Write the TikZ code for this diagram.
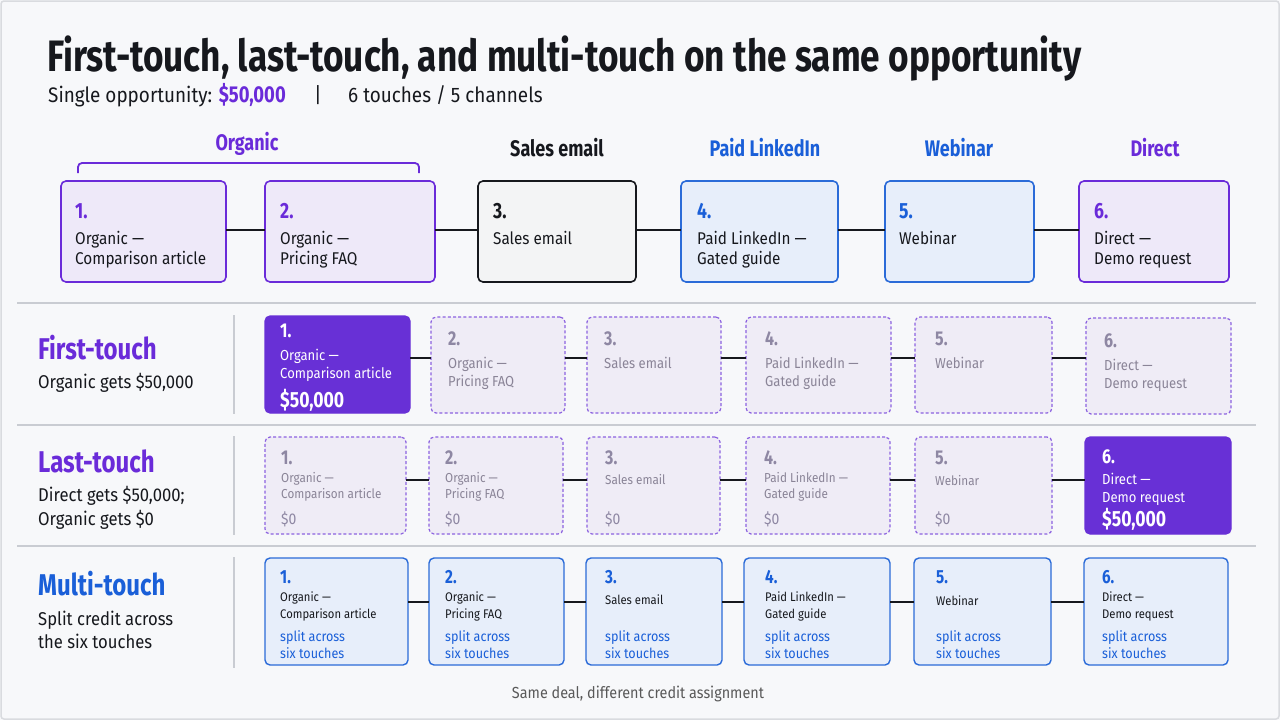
\documentclass[tikz,border=0pt]{standalone}
\usepackage{fontspec}
\setmainfont{Fira Sans}[FakeStretch=0.9, BoldFeatures={FakeStretch=0.8}]
\definecolor{P}{HTML}{6A2BD9}
\definecolor{PF}{HTML}{6830D6}
\definecolor{PL}{HTML}{EEE9F9}
\definecolor{PD}{HTML}{8C62E0}
\definecolor{DL}{HTML}{EFECF6}
\definecolor{B}{HTML}{1A5FD8}
\definecolor{BB}{HTML}{2B6BD8}
\definecolor{BL}{HTML}{E7EEFA}
\definecolor{GT}{HTML}{8A8497}
\definecolor{GN}{HTML}{8E87A3}
\definecolor{SEP}{HTML}{C9CCD2}
\definecolor{BG}{HTML}{F7F8FA}
\definecolor{KF}{HTML}{F3F4F5}
\definecolor{INK}{HTML}{16181D}
\newcommand\bx[6]{\node[#6, minimum width={#4-#2}, minimum height={#5-#3}] (#1) at ({(#2+#4)/2},{(#3+#5)/2}) {};}
\newcommand\tx[5]{\node[#4, anchor=base west, inner sep=0pt] at ([shift={(#2,#3)}]#1.north west) {#5};}
\tikzset{
  boxbase/.style={rectangle, rounded corners=5pt, inner sep=0pt, outer sep=0pt},
  pbox/.style={boxbase, draw=P, fill=PL, line width=1.6pt},
  kbox/.style={boxbase, draw=INK, fill=KF, line width=1.6pt},
  bbox/.style={boxbase, draw=BB, fill=BL, line width=1.6pt},
  dbox/.style={boxbase, draw=PD, fill=DL, line width=1.2pt, dash pattern=on 3pt off 2.2pt},
  fbox/.style={boxbase, draw=PF, fill=PF, line width=1.2pt},
  mbox/.style={boxbase, draw=BB, fill=BL, line width=1.4pt},
  conn/.style={draw=INK, line width=2pt},
  sepl/.style={draw=SEP, line width=1.4pt},
  chan/.style={font=\fontsize{22.5}{25}\selectfont\bfseries, inner sep=0pt},
  nA/.style={font=\fontsize{22}{24}\selectfont\bfseries},
  tA/.style={font=\fontsize{17}{20}\selectfont, text=INK},
  nB/.style={font=\fontsize{20}{22}\selectfont\bfseries},
  tB/.style={font=\fontsize{14.5}{17}\selectfont},
  mB/.style={font=\fontsize{22}{24}\selectfont\bfseries},
  nC/.style={font=\fontsize{20}{22}\selectfont\bfseries},
  tC/.style={font=\fontsize{13}{16}\selectfont},
  zC/.style={font=\fontsize{15.5}{18}\selectfont, text=GN},
  nD/.style={font=\fontsize{19}{22}\selectfont\bfseries, text=B},
  tD/.style={font=\fontsize{12.5}{15}\selectfont, text=INK},
  sD/.style={font=\fontsize{14}{17}\selectfont, text=B},
  rowlab/.style={font=\fontsize{30}{33}\selectfont\bfseries, anchor=base west, inner sep=0pt},
  rowsub/.style={font=\fontsize{18.5}{21}\selectfont, text=INK, anchor=base west, inner sep=0pt},
}
\begin{document}
\begin{tikzpicture}[x=1pt,y=-1pt]
\useasboundingbox (0,0) rectangle (1280,720);
\fill[BG] (0,0) rectangle (1280,720);
\draw[draw=SEP!70, line width=1.5pt, rounded corners=3pt] (1,1) rectangle (1279,719);

% title
\node[anchor=base west, inner sep=0pt, text=INK, font=\fontsize{44}{48}\selectfont\bfseries] (title) at (47,71) {First-touch, last-touch, and multi-touch on the same opportunity};
\node[anchor=base west, inner sep=0pt, text=INK, font=\fontsize{21}{24}\selectfont] (sub1) at (48,102) {Single opportunity: {\fontsize{23}{24}\selectfont\bfseries\color{P}\$50,000}};
\node[anchor=base, inner sep=0pt, text=INK, font=\fontsize{21}{24}\selectfont] (sub2) at (318,102) {|};
\node[anchor=base west, inner sep=0pt, text=INK, font=\fontsize{21}{24}\selectfont] (sub3) at (348,102) {6 touches / 5 channels};

% channel labels
\node[chan, text=P] (chOrg) at (247,144) {Organic};
\node[chan, text=INK] (chSal) at (557,148) {Sales email};
\node[chan, text=B] (chPai) at (765,148) {Paid LinkedIn};
\node[chan, text=B] (chWeb) at (959,148) {Webinar};
\node[chan, text=P] (chDir) at (1155,148) {Direct};
\coordinate (brA) at (78,173);
\coordinate (brB) at (419,173);
\draw[draw=P, line width=1.8pt, rounded corners=4pt] (brA) -- (78,163) -- (419,163) -- (brB);

% ---------- top row ----------
\bx{t1}{61}{181}{226}{282}{pbox}
\bx{t2}{265}{181}{435}{282}{pbox}
\bx{t3}{478}{181}{636}{282}{kbox}
\bx{t4}{681}{181}{838}{282}{bbox}
\bx{t5}{885}{181}{1034}{282}{bbox}
\bx{t6}{1079}{181}{1229}{282}{pbox}
\foreach \a/\b in {t1/t2,t2/t3,t3/t4,t4/t5,t5/t6} \draw[conn] (\a.east |- 0,230) -- (\b.west |- 0,230);
\tx{t1}{14}{37}{nA,text=P}{1.}
\tx{t1}{14}{63}{tA}{Organic —}
\tx{t1}{14}{83}{tA}{Comparison article}
\tx{t2}{15}{37}{nA,text=P}{2.}
\tx{t2}{15}{63}{tA}{Organic —}
\tx{t2}{15}{83}{tA}{Pricing FAQ}
\tx{t3}{15}{37}{nA,text=INK}{3.}
\tx{t3}{15}{63}{tA}{Sales email}
\tx{t4}{16}{37}{nA,text=B}{4.}
\tx{t4}{16}{63}{tA}{Paid LinkedIn —}
\tx{t4}{16}{83}{tA}{Gated guide}
\tx{t5}{14}{37}{nA,text=B}{5.}
\tx{t5}{14}{63}{tA}{Webinar}
\tx{t6}{15}{37}{nA,text=P}{6.}
\tx{t6}{15}{63}{tA}{Direct —}
\tx{t6}{15}{83}{tA}{Demo request}

% separators
\coordinate (s1a) at (17,303); \coordinate (s1b) at (1256,303);
\coordinate (s2a) at (17,425); \coordinate (s2b) at (1256,425);
\coordinate (s3a) at (17,546); \coordinate (s3b) at (1256,546);
\draw[sepl] (s1a) -- (s1b);
\draw[sepl] (s2a) -- (s2b);
\draw[sepl] (s3a) -- (s3b);
\coordinate (v1a) at (234,315); \coordinate (v1b) at (234,414);
\coordinate (v2a) at (234,436); \coordinate (v2b) at (234,535);
\coordinate (v3a) at (234,557); \coordinate (v3b) at (234,668);
\draw[sepl] (v1a) -- (v1b);
\draw[sepl] (v2a) -- (v2b);
\draw[sepl] (v3a) -- (v3b);

% ---------- First-touch row ----------
\node[rowlab, text=P] (lab1) at (38,359) {First-touch};
\node[rowsub] (sub1a) at (38,388) {Organic gets \$50,000};
\bx{f1}{265}{316}{410}{413}{fbox}
\bx{f2}{431}{317}{565}{413}{dbox}
\bx{f3}{587}{317}{721}{413}{dbox}
\bx{f4}{746}{317}{891}{413}{dbox}
\bx{f5}{915}{317}{1052}{413}{dbox}
\bx{f6}{1086}{318}{1231}{414}{dbox}
\foreach \a/\b in {f1/f2,f2/f3,f3/f4,f4/f5,f5/f6} \draw[conn] (\a.east |- 0,358) -- (\b.west |- 0,358);
\tx{f1}{15}{21}{nB,text=white}{1.}
\tx{f1}{15}{44}{tB,text=white}{Organic —}
\tx{f1}{15}{62}{tB,text=white}{Comparison article}
\tx{f1}{15}{91}{mB,text=white}{\$50,000}
\tx{f2}{17}{28}{nB,text=GN}{2.}
\tx{f2}{17}{51}{tB,text=GT}{Organic —}
\tx{f2}{17}{69}{tB,text=GT}{Pricing FAQ}
\tx{f3}{17}{28}{nB,text=GN}{3.}
\tx{f3}{17}{51}{tB,text=GT}{Sales email}
\tx{f4}{19}{28}{nB,text=GN}{4.}
\tx{f4}{19}{51}{tB,text=GT}{Paid LinkedIn —}
\tx{f4}{19}{69}{tB,text=GT}{Gated guide}
\tx{f5}{20}{28}{nB,text=GN}{5.}
\tx{f5}{20}{51}{tB,text=GT}{Webinar}
\tx{f6}{18}{29}{nB,text=GN}{6.}
\tx{f6}{18}{52}{tB,text=GT}{Direct —}
\tx{f6}{18}{70}{tB,text=GT}{Demo request}

% ---------- Last-touch row ----------
\node[rowlab, text=P] (lab2) at (38,472) {Last-touch};
\node[rowsub] (sub2a) at (38,501) {Direct gets \$50,000;};
\node[rowsub] (sub2b) at (38,525) {Organic gets \$0};
\bx{l1}{265}{437}{406}{534}{dbox}
\bx{l2}{429}{437}{563}{534}{dbox}
\bx{l3}{587}{437}{720}{534}{dbox}
\bx{l4}{746}{437}{890}{534}{dbox}
\bx{l5}{915}{437}{1052}{534}{dbox}
\bx{l6}{1085}{437}{1231}{534}{fbox}
\foreach \a/\b in {l1/l2,l2/l3,l3/l4,l4/l5,l5/l6} \draw[conn] (\a.east |- 0,480) -- (\b.west |- 0,480);
\foreach \n/\num/\la/\lb/\dx in {l1/1./Organic —/Comparison article/16,l2/2./Organic —/Pricing FAQ/16,l4/4./Paid LinkedIn —/Gated guide/18}{
  \tx{\n}{\dx}{27}{nC,text=GN}{\num}
  \tx{\n}{\dx}{45}{tC,text=GT}{\la}
  \tx{\n}{\dx}{61}{tC,text=GT}{\lb}
  \tx{\n}{\dx}{87}{zC}{\$0}
}
\tx{l3}{18}{27}{nC,text=GN}{3.}
\tx{l3}{18}{47}{tC,text=GT}{Sales email}
\tx{l3}{18}{87}{zC}{\$0}
\tx{l5}{20}{27}{nC,text=GN}{5.}
\tx{l5}{20}{48}{tC,text=GT}{Webinar}
\tx{l5}{20}{87}{zC}{\$0}
\tx{l6}{17}{26}{nC,text=white}{6.}
\tx{l6}{17}{47}{tB,text=white}{Direct —}
\tx{l6}{17}{65}{tB,text=white}{Demo request}
\tx{l6}{17}{89}{mB,text=white}{\$50,000}

% ---------- Multi-touch row ----------
\node[rowlab, text=B] (lab3) at (38,595) {Multi-touch};
\node[rowsub] (sub3a) at (38,625) {Split credit across};
\node[rowsub] (sub3b) at (38,648) {the six touches};
\bx{m1}{265}{558}{408}{665}{mbox}
\bx{m2}{429}{558}{564}{665}{mbox}
\bx{m3}{586}{558}{722}{665}{mbox}
\bx{m4}{744}{558}{890}{665}{mbox}
\bx{m5}{914}{558}{1051}{665}{mbox}
\bx{m6}{1084}{558}{1228}{665}{mbox}
\foreach \a/\b in {m1/m2,m2/m3,m3/m4,m4/m5,m5/m6} \draw[conn] (\a.east |- 0,602) -- (\b.west |- 0,602);
\foreach \n/\num/\la/\lb/\dx in {m1/1./Organic —/Comparison article/15,m2/2./Organic —/Pricing FAQ/16,m4/4./Paid LinkedIn —/Gated guide/21,m6/6./Direct —/Demo request/18}{
  \tx{\n}{\dx}{25}{nD}{\num}
  \tx{\n}{\dx}{43}{tD}{\la}
  \tx{\n}{\dx}{60}{tD}{\lb}
  \tx{\n}{\dx}{83}{sD}{split across}
  \tx{\n}{\dx}{100}{sD}{six touches}
}
\tx{m3}{19}{25}{nD}{3.}
\tx{m3}{19}{46}{tD}{Sales email}
\tx{m3}{19}{83}{sD}{split across}
\tx{m3}{19}{100}{sD}{six touches}
\tx{m5}{22}{25}{nD}{5.}
\tx{m5}{22}{47}{tD}{Webinar}
\tx{m5}{22}{83}{sD}{split across}
\tx{m5}{22}{100}{sD}{six touches}

% footer
\node[anchor=base, inner sep=0pt, text=black!65, font=\fontsize{16}{19}\selectfont] (foot) at (638,698) {Same deal, different credit assignment};
\end{tikzpicture}
\end{document}
